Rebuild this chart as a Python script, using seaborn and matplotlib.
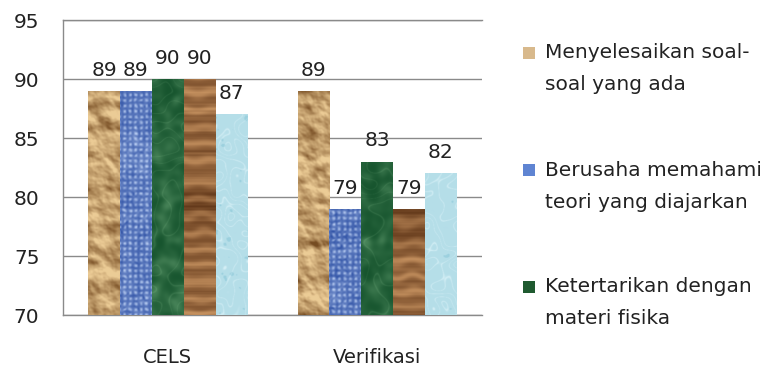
import numpy as np
import pandas as pd
import matplotlib
matplotlib.use("Agg")
import matplotlib.pyplot as plt
from matplotlib.patches import Rectangle
import seaborn as sns

# ---- data ----
groups = ["CELS", "Verifikasi"]
series = [
    "Menyelesaikan soal-soal yang ada",
    "Berusaha memahami teori yang diajarkan",
    "Ketertarikan dengan materi fisika",
    "Aspek 4",
    "Aspek 5",
]
legend_lines = [
    ["Menyelesaikan soal-", "soal yang ada"],
    ["Berusaha memahami", "teori yang diajarkan"],
    ["Ketertarikan dengan", "materi fisika"],
]
cels_values = [89, 89, 90, 90, 87]
verifikasi_values = [89, 79, 83, 79, 82]
y_ticks = [70, 75, 80, 85, 90, 95]

df = pd.DataFrame({
    "kelompok": [g for g in groups for _ in series],
    "aspek": series * len(groups),
    "nilai": cels_values + verifikasi_values,
})

# ---- procedural textures for the bars ----
rng = np.random.default_rng(11)


def blur(a, sigma, sigma_y=None):
    sy = sigma if sigma_y is None else sigma_y
    h, w = a.shape
    fy = np.fft.fftfreq(h)[:, None]
    fx = np.fft.fftfreq(w)[None, :]
    g = np.exp(-2 * np.pi ** 2 * ((sigma * fx) ** 2 + (sy * fy) ** 2))
    return np.real(np.fft.ifft2(np.fft.fft2(a) * g))


def noise(h, w, sigma, sigma_y=None):
    n = blur(rng.standard_normal((h, w)), sigma, sigma_y)
    n -= n.min()
    return n / (n.max() + 1e-9)


def norm(a):
    return (a - a.mean()) / (a.std() + 1e-9)


def mix(c0, c1, t):
    c0 = np.array(c0, float) / 255
    c1 = np.array(c1, float) / 255
    t = np.clip(t, 0, 1)[..., None]
    return c0 * (1 - t) + c1 * t


def paper(H, W):
    # crumpled paper: shaded height field
    hgt = noise(H, W, 13, 10) + 0.4 * noise(H, W, 5) + 0.1 * noise(H, W, 2)
    gy, gx = np.gradient(hgt)
    light = norm(gx * 0.5 - gy * 0.85)
    shade = 0.66 + 0.2 * light
    return mix((118, 76, 34), (236, 204, 150), shade)


def woven(H, W):
    yy, xx = np.mgrid[0:H, 0:W]
    jitter = noise(H, W, 3) * 4
    cell = (0.5 * (np.cos((xx + jitter) * 2 * np.pi / 11.0) + 1)
            * 0.5 * (np.cos((yy + jitter) * 2 * np.pi / 11.0) + 1))
    t = 0.3 + 0.65 * cell + 0.5 * (noise(H, W, 2) - 0.5) - 0.2 * noise(H, W, 12)
    return mix((52, 86, 168), (186, 206, 242), t)


def marble(H, W):
    cloud = noise(H, W, 7)
    n = noise(H, W, 16)
    yy, xx = np.mgrid[0:H, 0:W]
    veins = np.abs(np.sin(xx * 0.05 + yy * 0.02 + n * 10))
    t = 0.05 + 0.45 * cloud ** 2 + 0.25 * (1 - veins) ** 10
    return mix((18, 80, 42), (120, 178, 130), t)


def wood(H, W):
    yy, xx = np.mgrid[0:H, 0:W]
    warp = noise(H, W, 18) * 20
    rings = 0.5 * (np.sin((yy + warp) * 2 * np.pi / 34.0) + 1)
    broad = noise(H, W, 30)
    streaks = norm(blur(rng.standard_normal((H, 1)).repeat(W, 1), 1.2))
    t = 0.12 + 0.45 * rings ** 1.5 + 0.35 * broad + 0.06 * streaks
    return mix((96, 54, 24), (198, 146, 96), t)


def water(H, W):
    yy, xx = np.mgrid[0:H, 0:W]
    n = noise(H, W, 10)
    streak = np.abs(np.sin(xx * 0.08 - yy * 0.05 + n * 12))
    spots = noise(H, W, 3) > 0.8
    t = 0.5 + 0.45 * (1 - streak) ** 8 - 0.3 * spots
    return mix((140, 200, 216), (222, 244, 249), t)


makers = [paper, woven, marble, wood, water]
legend_colors = ["#d8b98c", "#5f84d2", "#1f5a30"]

# ---- figure ----
sns.set_theme(style="white")
plt.rcParams["font.family"] = ["DejaVu Sans"]
text_color = "#222222"
grid_color = "#8a8a8a"

fig = plt.figure(figsize=(7.72, 3.70), dpi=100)
ax = fig.add_axes([63 / 772, 55 / 370, 419 / 772, 295 / 370])

sns.barplot(data=df, x="kelompok", y="nilai", hue="aspek", hue_order=series,
            order=groups, width=0.76, gap=0,
            palette=["#c8a878", "#6f8fd0", "#226a3a", "#8c5a2e", "#b6e2ec"],
            legend=False, ax=ax, saturation=1, edgecolor="none", linewidth=0)

ax.set_xlim(-0.5, 1.5)
ax.set_ylim(70, 95)
px_per_unit = 295 / 25

for k, container in enumerate(ax.containers):
    for bar in container:
        x0, y0 = bar.get_x(), bar.get_y()
        w, h = bar.get_width(), bar.get_height()
        bottom = max(y0, 70)
        tex_h = int(round((y0 + h - bottom) * px_per_unit * 2)) + 2
        img = makers[k](tex_h, 64)
        im = ax.imshow(img, extent=(x0, x0 + w, bottom, y0 + h), aspect="auto",
                       interpolation="bilinear", zorder=3)
        im.set_clip_path(bar)
    ax.bar_label(container, fmt="%d", padding=8, fontsize=14.5, color=text_color)

ax.set_xlim(-0.5, 1.5)
ax.set_ylim(70, 95)
ax.set_yticks(y_ticks)
ax.grid(axis="y", color=grid_color, linewidth=1)
ax.set_axisbelow(True)
ax.set_xlabel("")
ax.set_ylabel("")
for s in ["left", "top", "bottom"]:
    ax.spines[s].set_visible(True)
    ax.spines[s].set_color(grid_color)
    ax.spines[s].set_linewidth(1)
ax.spines["right"].set_visible(False)
ax.tick_params(axis="y", length=0, pad=17, labelsize=14.5, labelcolor=text_color)
ax.tick_params(axis="x", length=0, pad=24, labelsize=14, labelcolor=text_color)

# legend: square key followed by two text lines per entry
for i, (lines, color) in enumerate(zip(legend_lines, legend_colors)):
    y_first = 53 + 117 * i
    fig.patches.append(Rectangle((523 / 772, 1 - (y_first + 6) / 370), 12 / 772, 12 / 370,
                                 transform=fig.transFigure, facecolor=color,
                                 edgecolor="none"))
    for j, line in enumerate(lines):
        fig.text(545 / 772, 1 - (y_first + 32 * j) / 370, line, fontsize=14.5,
                 color=text_color, ha="left", va="center")

fig.savefig("out.png", dpi=100)
